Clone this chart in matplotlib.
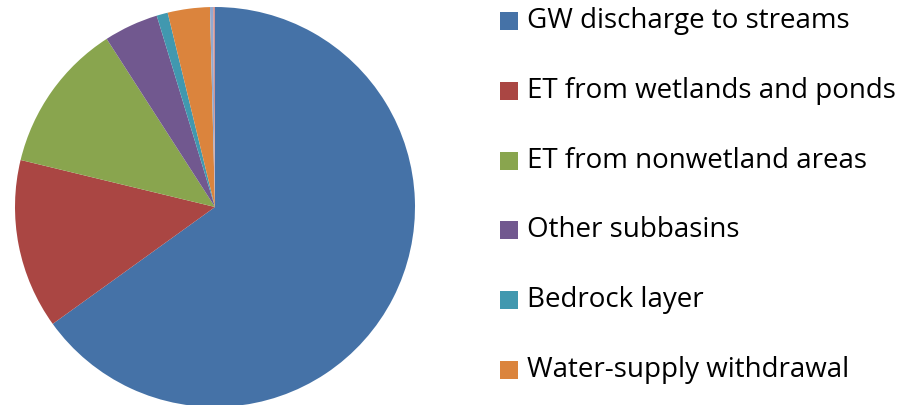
# pie chart of groundwater outflow components
import matplotlib.pyplot as plt
from matplotlib.patches import Rectangle

# Data (percent of outflow)
labels = ['GW discharge to streams', 'ET from wetlands and ponds',
          'ET from nonwetland areas', 'Other subbasins', 'Bedrock layer',
          'Water-supply withdrawal', 'Other 1', 'Other 2']
values = [65.0, 13.7, 12.1, 4.4, 0.9, 3.4, 0.25, 0.15]
colors = ['#4572A7', '#AA4643', '#89A54E', '#71588F', '#4198AF',
          '#DB843D', '#93A9CF', '#D19392']
n_legend = 6

W, H = 914, 405
fig = plt.figure(figsize=(W / 100, H / 100), dpi=100)

# pie: centre (215, 207) px, radius 200 px
ax = fig.add_axes([15 / W, (H - 207 - 200) / H, 400 / W, 400 / H])
ax.pie(values, colors=colors, startangle=90, counterclock=False,
       radius=1, wedgeprops=dict(linewidth=0))
ax.set_xlim(-1, 1)
ax.set_ylim(-1, 1)
ax.axis('off')

# legend drawn by hand
for i in range(n_legend):
    yc = 21 + i * 69.8
    fig.patches.append(Rectangle((500 / W, (H - yc - 9) / H), 18 / W, 18 / H,
                                 transform=fig.transFigure,
                                 color=colors[i], linewidth=0))
    fig.text(527 / W, (H - yc) / H, labels[i], fontsize=20, family='Open Sans',
             va='center', ha='left', color='black')

fig.savefig('out.png', dpi=100)
